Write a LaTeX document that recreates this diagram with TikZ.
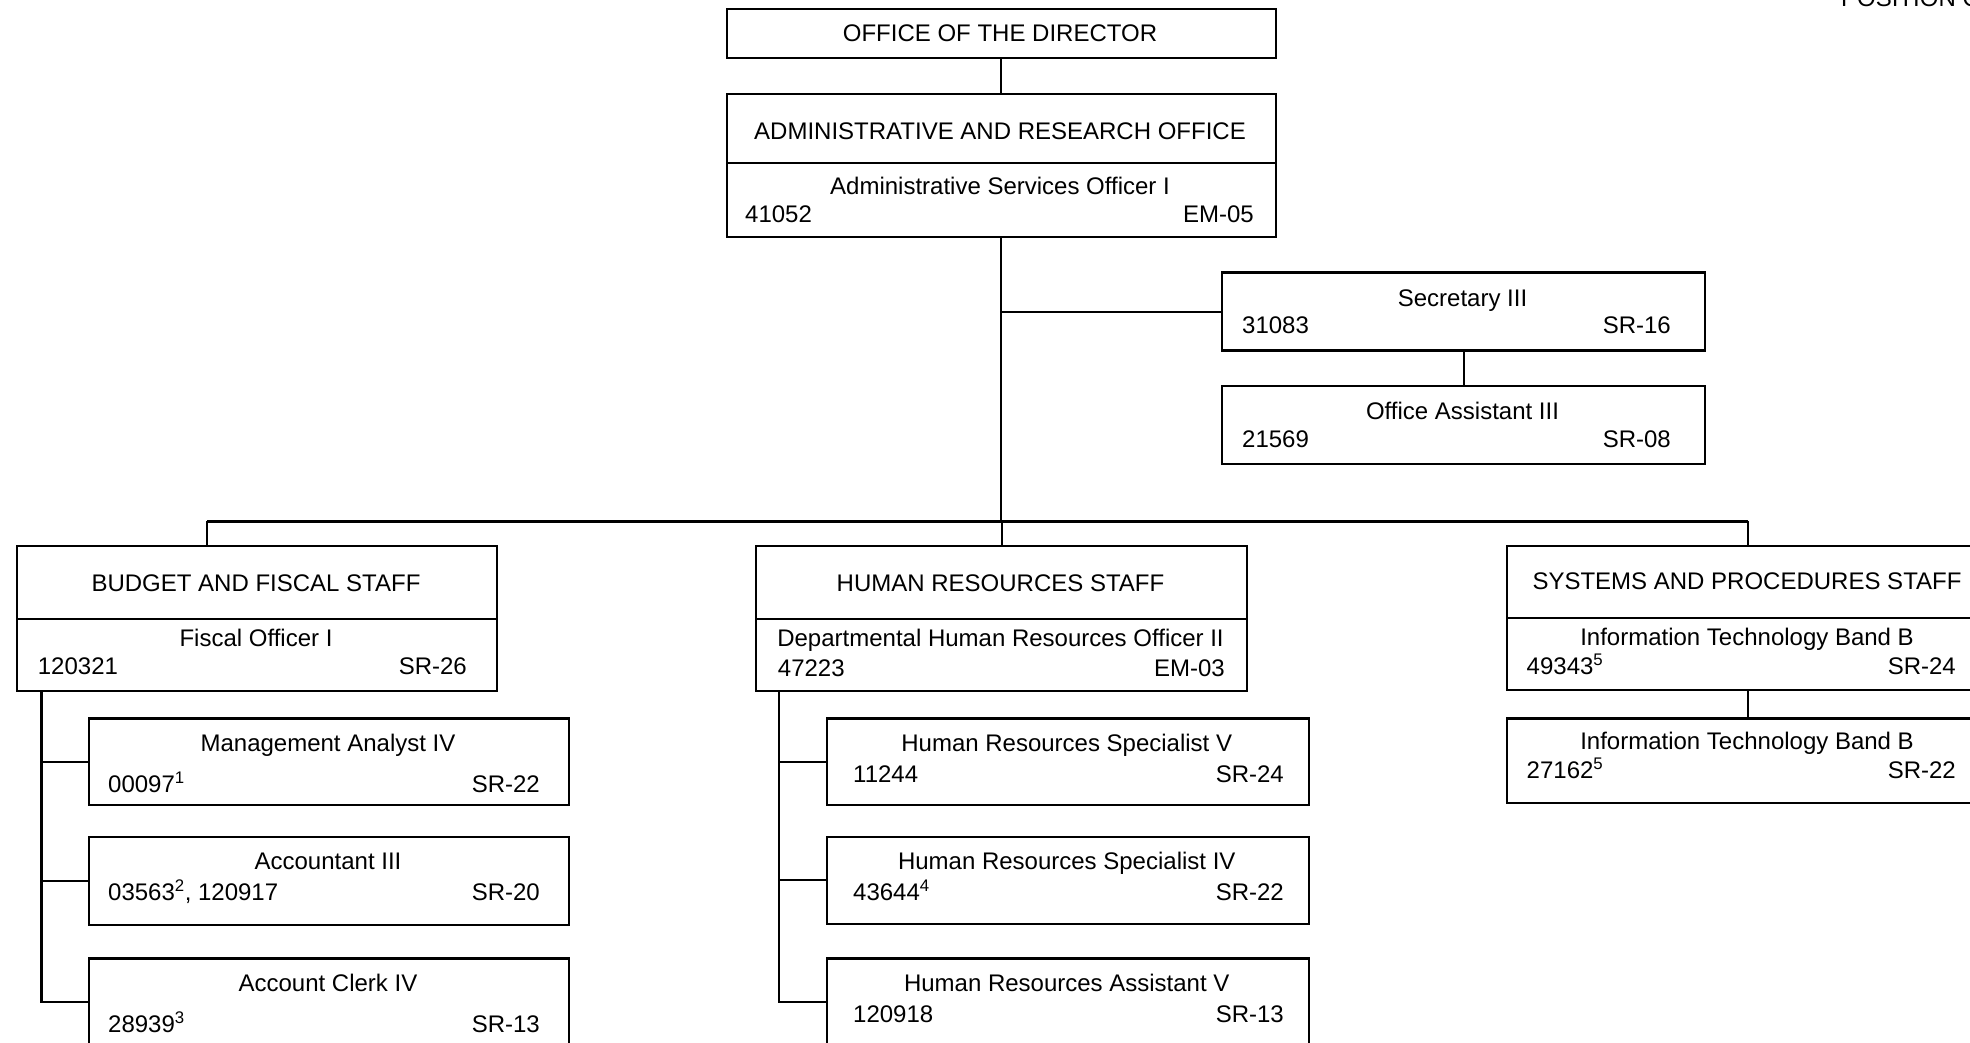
\documentclass[tikz,border=0pt]{standalone}
\usepackage{fontspec}
\setmainfont{Liberation Sans}
\usetikzlibrary{calc}
\tikzset{
  box/.style={draw, line width=2.4pt, inner sep=0pt, anchor=north west},
  conn/.style={line width=2.2pt},
  lbl/.style={inner sep=0pt, text height=17pt, text depth=0pt, font=\fontsize{24}{28}\selectfont},
}
\begin{document}
\begin{tikzpicture}[x=1pt,y=-1pt]
\useasboundingbox (0,0) rectangle (1970,1042);
\clip (0,0) rectangle (1970,1042);

% top-right heading (cut off)
\node[inner sep=0pt, anchor=base west, font=\fontsize{24}{28}\selectfont] (head) at (1841,6) {POSITION ORGANIZATION CHART};

% Director
\node[box, minimum width=549pt, minimum height=49pt] (dir) at (725.5,7.5) {};
\node[lbl] (dirt) at (1000,32.7) {OFFICE OF THE DIRECTOR};

% Administrative and research office
\node[box, minimum width=549pt, minimum height=69pt] (admt) at (725.5,93) {};
\node[lbl] (admtt) at (1000,130.7) {ADMINISTRATIVE AND RESEARCH OFFICE};
\node[box, minimum width=549pt, minimum height=74pt] (admb) at (725.5,162) {};
\node[lbl] (admbt) at (1000,186) {Administrative Services Officer I};
\node[lbl, anchor=west] (admbn) at (745,213.6) {41052};
\node[lbl, anchor=east] (admbg) at (1254,213.6) {EM-05};

% Secretary
\node[box, minimum width=483pt, minimum height=78pt] (sec) at (1221,271.4) {};
\node[lbl] (sect) at (1462.5,297.8) {Secretary III};
\node[lbl, anchor=west] (secn) at (1242,325.4) {31083};
\node[lbl, anchor=east] (secg) at (1671,325.4) {SR-16};

% Office Assistant
\node[box, minimum width=483pt, minimum height=78pt] (oa) at (1221,384.5) {};
\node[lbl] (oat) at (1462.5,410.8) {Office Assistant III};
\node[lbl, anchor=west] (oan) at (1242,438.5) {21569};
\node[lbl, anchor=east] (oag) at (1671,438.5) {SR-08};

% Budget and fiscal staff
\node[box, minimum width=480pt, minimum height=73pt] (bft) at (16,545) {};
\node[lbl] (bftt) at (256,583) {BUDGET AND FISCAL STAFF};
\node[box, minimum width=480pt, minimum height=72pt] (bfb) at (16,618) {};
\node[lbl] (bfbt) at (256,638) {Fiscal Officer I};
\node[lbl, anchor=west] (bfbn) at (37.7,666) {120321};
\node[lbl, anchor=east] (bfbg) at (467,666) {SR-26};

\node[box, minimum width=480pt, minimum height=86.6pt] (ma4) at (88,717.4) {};
\node[lbl] (ma4t) at (328,742.5) {Management Analyst IV};
\node[lbl, anchor=west] (ma4n) at (108,784) {00097\textsuperscript{1}};
\node[lbl, anchor=east] (ma4g) at (540,784) {SR-22};

\node[box, minimum width=480pt, minimum height=88pt] (ac3) at (88,835.5) {};
\node[lbl] (ac3t) at (328,860.6) {Accountant III};
\node[lbl, anchor=west] (ac3n) at (108,892) {03563\textsuperscript{2}, 120917};
\node[lbl, anchor=east] (ac3g) at (540,892) {SR-20};

\node[box, minimum width=480pt, minimum height=87pt] (ac4) at (88,957.4) {};
\node[lbl] (ac4t) at (328,982.5) {Account Clerk IV};
\node[lbl, anchor=west] (ac4n) at (108,1024) {28939\textsuperscript{3}};
\node[lbl, anchor=east] (ac4g) at (540,1024) {SR-13};

% Human resources staff
\node[box, minimum width=491pt, minimum height=73pt] (hrt) at (755,545) {};
\node[lbl] (hrtt) at (1000.5,583) {HUMAN RESOURCES STAFF};
\node[box, minimum width=491pt, minimum height=72pt] (hrb) at (755,618) {};
\node[lbl] (hrbt) at (1000.5,638) {Departmental Human Resources Officer II};
\node[lbl, anchor=west] (hrbn) at (777.7,668) {47223};
\node[lbl, anchor=east] (hrbg) at (1225,668) {EM-03};

\node[box, minimum width=482.5pt, minimum height=86.6pt] (hs5) at (825.5,717.4) {};
\node[lbl] (hs5t) at (1066.75,742.5) {Human Resources Specialist V};
\node[lbl, anchor=west] (hs5n) at (853,774) {11244};
\node[lbl, anchor=east] (hs5g) at (1284,774) {SR-24};

\node[box, minimum width=482.5pt, minimum height=87pt] (hs4) at (825.5,835.5) {};
\node[lbl] (hs4t) at (1066.75,860.6) {Human Resources Specialist IV};
\node[lbl, anchor=west] (hs4n) at (853,892) {43644\textsuperscript{4}};
\node[lbl, anchor=east] (hs4g) at (1284,892) {SR-22};

\node[box, minimum width=482.5pt, minimum height=87pt] (ha5) at (825.5,957.4) {};
\node[lbl] (ha5t) at (1066.75,982.5) {Human Resources Assistant V};
\node[lbl, anchor=west] (ha5n) at (853,1014) {120918};
\node[lbl, anchor=east] (ha5g) at (1284,1014) {SR-13};

% Systems and procedures staff
\node[box, minimum width=482pt, minimum height=72.5pt] (spt) at (1506,544.5) {};
\node[lbl] (sptt) at (1747,580.5) {SYSTEMS AND PROCEDURES STAFF};
\node[box, minimum width=482pt, minimum height=72pt] (spb) at (1506,617) {};
\node[lbl] (spbt) at (1747,637) {Information Technology Band B};
\node[lbl, anchor=west] (spbn) at (1526.5,666) {49343\textsuperscript{5}};
\node[lbl, anchor=east] (spbg) at (1956,666) {SR-24};

\node[box, minimum width=482pt, minimum height=84.2pt] (it2) at (1506,717.4) {};
\node[lbl] (it2t) at (1747,741) {Information Technology Band B};
\node[lbl, anchor=west] (it2n) at (1526.5,770) {27162\textsuperscript{5}};
\node[lbl, anchor=east] (it2g) at (1956,770) {SR-22};

% connectors
\coordinate (busL) at (207,521.4);
\coordinate (busR) at (1748,521.4);
\draw[conn] (dir.south) -- (admt.north);
\draw[conn] (admb.south) -- (admb.south |- busL);
\draw[conn] (sec.west -| admb.south) -- (sec.west);
\draw[conn] (sec.south) -- (oa.north);
\draw[conn] (busL) -- (busR);
\draw[conn] (busL) -- (busL |- bft.north);
\draw[conn] (hrt.north |- busL) -- (hrt.north);
\draw[conn] (busR) -- (busR |- spt.north);
\draw[conn] (spb.south) -- (it2.north);

\coordinate (bfx) at ($(bfb.south west)+(25.5,0)$);
\draw[conn] (bfx) |- (ac4.west);
\draw[conn] (bfx |- ma4.west) -- (ma4.west);
\draw[conn] (bfx |- ac3.west) -- (ac3.west);

\coordinate (hrx) at ($(hrb.south west)+(24,0)$);
\draw[conn] (hrx) |- (ha5.west);
\draw[conn] (hrx |- hs5.west) -- (hs5.west);
\draw[conn] (hrx |- hs4.west) -- (hs4.west);
\end{tikzpicture}
\end{document}
